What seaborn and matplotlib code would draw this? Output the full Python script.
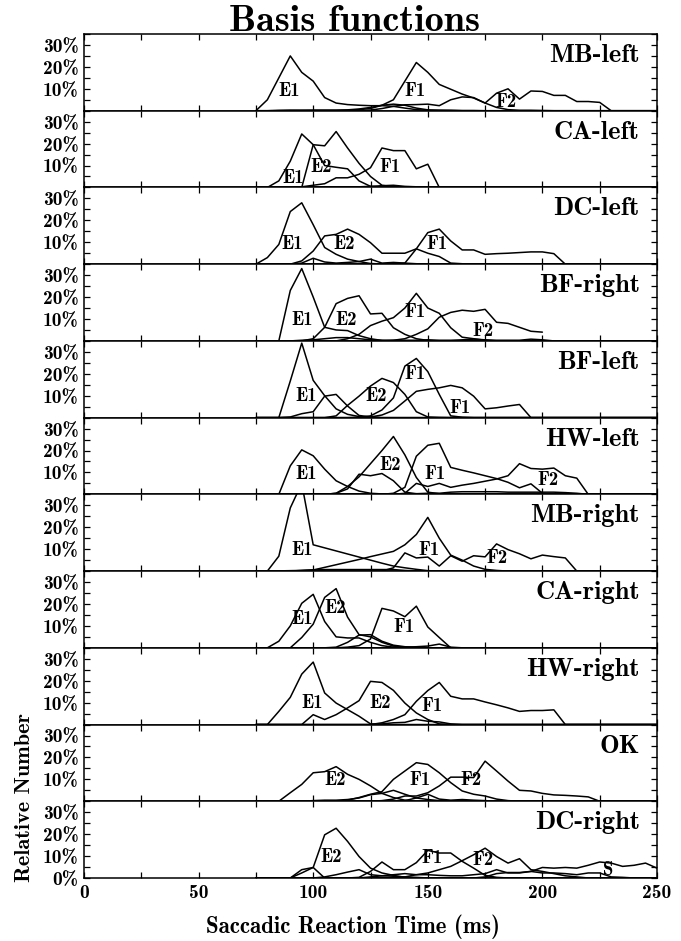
import numpy as np
import pandas as pd
import matplotlib
matplotlib.use("Agg")
import matplotlib.pyplot as plt
import seaborn as sns
from matplotlib.ticker import MultipleLocator, FixedLocator, FuncFormatter

# ---------------- data ----------------
RT = [75, 80, 85, 90, 95, 100,
      105, 110, 115, 120, 125, 130,
      135, 140, 145, 150, 155, 160,
      165, 170, 175, 180, 185, 190,
      195, 200, 205, 210, 215, 220,
      225, 230, 235, 240, 245, 250]

Z6 = [0, 0, 0, 0, 0, 0]
NA6 = [np.nan] * 6

MB_left = {
    "E1": [0, 5, 15, 25, 17.5, 13.5] + [6, 3.5, 2.8, 2.5, 2.3, 2.3] + [2, 1.2, 0.5, 0.2, 0.2, 0.1] + Z6 + Z6 + Z6,
    "E2": [0, 0, 0.2, 0.3, 0.3, 0.3] + [0.3, 0.3, 0.4, 0.8, 1.5, 2.5] + [3, 2.5, 1.2, 0.4, 0.2, 0.2] + [0.1, 0.1, 0, 0, 0, 0] + Z6 + Z6,
    "F1": [0, 0, 0, 0, 0, 0.1] + [0.1, 0.1, 0.2, 0.5, 1, 2.5] + [5, 13.5, 22, 17.5, 12, 9.8] + [7.6, 5.8, 3.5, 1.5, 0.5, 0.2] + [0.2, 0.1, 0, 0, 0, 0] + Z6,
    "F2": Z6 + [0, 0, 0, 0, 0.3, 1] + [2, 2.7, 2.8, 3, 2.3, 5] + [6.3, 6, 3.5, 8, 10, 5.3] + [9, 8.8, 7, 7, 4.2, 4.2] + [3.8, 0, 0, 0, 0, 0],
}
CA_left = {
    "E1": [0, 0, 3, 12, 24.4, 19.5] + [10, 9.2, 8.5, 3, 0.5, 0.2] + [0.1, 0, 0, 0, 0, 0] + Z6 + Z6 + Z6,
    "E2": [0, 0, 0, 0, 0, 19.5] + [19, 25.5, 18, 11, 5, 1] + [0.3, 0.2, 0.1, 0, 0, 0] + Z6 + Z6 + Z6,
    "F1": [0, 0, 0, 0, 0.3, 1] + [1.7, 4.4, 4.4, 6, 9, 18] + [16.8, 16.8, 8.5, 10.6, 0, 0] + Z6 + Z6 + Z6,
    "x1": [0, 0, 0, 0, 0.2, 0.3] + [0.3, 0.3, 0.3, 0.3, 0.5, 0.8] + [1, 0.5, 0.3, 0.1, 0, 0] + Z6 + Z6 + Z6,
}
DC_left = {
    "E1": [0, 3, 9, 24, 28, 18] + [7.6, 4.5, 2.3, 1.2, 0.3, 0.1] + Z6 + Z6 + Z6 + Z6,
    "E2": [0, 0, 0, 0, 1.5, 6] + [12.9, 13.6, 16, 13.6, 9.8, 5] + [5, 5, 7, 5, 3.5, 0.5] + [0.2, 0, 0, 0, 0, 0] + Z6 + Z6,
    "F1": Z6 + Z6 + [0, 0.5, 7, 14.4, 16, 10.6] + [6.5, 6.5, 4.5, 4.8, 5, 5.3] + [5.6, 5.6, 4.8, 0, 0, 0] + Z6,
    "x1": [0, 0, 0, 0, 0.5, 2.7] + [1, 0.5, 0.8, 1.2, 2.3, 0.5] + [0.8, 0.5, 0.2, 0, 0, 0] + Z6 + Z6 + Z6,
}
BF_right = {
    "E1": [0, 0, 0, 23, 33, 20] + [6.2, 5, 4.7, 2.4, 1, 0.2] + Z6 + Z6 + Z6 + Z6,
    "E2": [0, 0, 0, 0, 0, 1] + [6.2, 17, 19.4, 20.6, 12.3, 12.6] + [6, 3, 1, 0.2, 0, 0] + Z6 + Z6 + Z6,
    "F1": Z6 + [0, 0, 1, 3, 7, 9] + [10.6, 15, 21.7, 15, 12.6, 6] + [1.7, 1, 0.3, 0, 0, 0] + Z6 + Z6,
    "F2": Z6 + Z6 + [0.3, 1, 3, 5.5, 10.8, 13] + [14, 13.5, 14.4, 8.5, 8, 6.2] + [4.4, 4] + [np.nan] * 4 + NA6,
    "x1": [0, 0, 0, 0, 0.3, 0.5] + [1, 1.5, 1.5, 1, 0.5, 0.3] + [0.3, 0.3, 0.3, 0.5, 0.3, 0.3] + [0.5, 0.8, 0.5, 0.3, 0.3, 0.3] + [0.8, 0.5, 0, 0, 0, 0] + Z6,
}
BF_left = {
    "E1": [0, 0, 0, 16.7, 34, 17] + [10, 4, 1.5, 0.5, 0.2, 0] + Z6 + Z6 + Z6 + Z6,
    "x1": [0, 0, 0, 0.3, 1.8, 2.7] + [9.8, 10.6, 5.3, 1, 0.3, 0] + Z6 + Z6 + Z6 + Z6,
    "E2": Z6 + [0, 0.8, 5.6, 9.8, 14.4, 17.9] + [16, 10.6, 2.7, 0.3, 0.1, 0] + Z6 + Z6 + Z6,
    "F1a": Z6 + [0, 0, 0, 0.2, 0.8, 3.5] + [9, 23.5, 27, 21, 10.6, 0.8] + [0.2, 0, 0, 0, 0, 0] + Z6 + Z6,
    "F1b": Z6 + [0, 0, 0, 0, 0.3, 1.2] + [3.3, 7.6, 12, 12.9, 13.6, 14.7] + [13.6, 9.8, 4, 4.5, 5.3, 6] + Z6 + Z6,
}
HW_left = {
    "E1": [0, 0, 0, 13, 20.3, 17.6] + [11.5, 6.2, 3.6, 1.5, 0.5, 0.2] + Z6 + Z6 + Z6 + Z6,
    "E2": Z6 + [0, 0.5, 3.6, 8, 14, 20] + [26.4, 18, 7.7, 1, 0.3, 0] + Z6 + Z6 + Z6,
    "x1": Z6 + [0, 0.5, 2.5, 9.2, 8.5, 9.5] + [6.2, 1, 0.3, 0, 0, 0] + Z6 + Z6 + Z6,
    "F1": Z6 + Z6 + [0.5, 3.2, 17.4, 22.4, 23.3, 12.3] + [11, 9.8, 8.5, 7.2, 5.5, 3] + [4.8, 0.5, 0, 0, 0, 0] + Z6,
    "F2": Z6 + Z6 + [0, 0.5, 5, 3.6, 5, 3.2] + [4.2, 5, 6, 7, 8.5, 14] + [11.8, 11.5, 12, 8.5, 7.4, 0] + Z6,
    "x2": Z6 + Z6 + [0, 0, 0.3, 0.5, 0.5, 1] + [1.2, 1.2, 1.2, 1.2, 1, 1] + [1, 1, 1, 0.8, 0.5, 0] + Z6,
}
MB_right = {
    "E1": [0, 0, 6.8, 28.8, 40, 12] + [10.6, 9.2, 7.8, 6.4, 5, 3.6] + [2.3, 1.5, 0.8, 0.2, 0, 0] + Z6 + Z6 + Z6,
    "F1": [0, 0, 0.1, 0.2, 0.3, 0.5] + [1.7, 2.9, 4.1, 5.3, 6.6, 7.8] + [9, 12, 16.7, 24.5, 15, 7.3] + [5, 2.3, 0.8, 0.3, 0, 0] + Z6 + Z6,
    "F2": Z6 + Z6 + [1.5, 8.3, 6, 6.4, 2.3, 7] + [4.5, 7, 6.5, 12.4, 9.8, 7.9] + [5.6, 7.3, 6.6, 6, 0, 0] + Z6,
    "x1": [0, 0, 0, 0, 0.3, 0.6] + [0.7, 0.7, 0.7, 0.7, 0.7, 0.7] + [0.7, 0.3, 0.1, 0, 0, 0] + Z6 + Z6 + Z6,
}
CA_right = {
    "E1": [0, 0, 3, 10, 20.3, 24.4] + [12, 5, 4.5, 4.5, 2.5, 1] + [0.3, 0, 0, 0, 0, 0] + Z6 + Z6 + Z6,
    "E2": [0, 0, 0, 0, 4.7, 10.8] + [23, 27, 14, 6, 5, 2.5] + [0.8, 0.3, 0, 0, 0, 0] + Z6 + Z6 + Z6,
    "x1": Z6 + [0, 0.3, 2.5, 5.8, 6, 3] + [1.2, 0.5, 0.2, 0, 0, 0] + Z6 + Z6 + Z6,
    "F1": Z6 + [0, 0, 0.3, 1, 4, 18] + [16.8, 14.2, 19, 9.5, 4.7, 0] + Z6 + Z6 + Z6,
    "x2": Z6 + Z6 + [0.2, 0.3, 0.5, 0.8, 1.7, 0.3] + Z6 + Z6 + Z6,
}
HW_right = {
    "E1": [0, 0, 6, 12.4, 23, 28.5] + [14.4, 9.8, 6.8, 3.8, 0.3, 0] + Z6 + Z6 + Z6 + Z6,
    "E2": [0, 0, 0, 0, 0, 4.5] + [2.3, 4.5, 7.6, 10.9, 19.7, 19.2] + [15.6, 9.8, 5.3, 2.3, 0.3, 0] + Z6 + Z6 + Z6,
    "F1": Z6 + [0, 0, 0, 0, 0, 0.8] + [2.3, 4.5, 10.6, 15.5, 19.2, 12.9] + [11.7, 11.7, 10.3, 9, 7.6, 6] + [6.4, 6.4, 6.7, 0, 0, 0] + Z6,
    "x1": Z6 + [0, 0, 0, 0, 0, 0.3] + [0.8, 1, 2.3, 1.5, 1.2, 0.3] + Z6 + Z6 + Z6,
}
OK = {
    "E2": [0, 0, 0, 3.9, 7.7, 13] + [13.5, 15.8, 12.3, 10, 7, 3.6] + [1.7, 0.5, 0, 0, 0, 0] + Z6 + Z6 + Z6,
    "F1": Z6 + [0, 0, 0.5, 1.7, 3.2, 4.4] + [10, 13.8, 17.6, 16.8, 13, 8.5] + [4.7, 3.2, 2.4, 1, 0.3, 0] + Z6 + Z6,
    "F2": Z6 + [0, 0, 0, 0, 0, 0.3] + [1, 2.4, 2.4, 3.9, 7, 11] + [11, 10.8, 18.3, 13.8, 9.2, 5] + [4.7, 3.6, 2.9, 2.7, 2.4, 2] + Z6,
    "x1": [0, 0, 0, 0, 0, 0.3] + [0.5, 0.5, 0.8, 1.5, 3, 3.6] + [5, 3.2, 1.5, 0.8, 0.3, 0] + Z6 + Z6 + Z6,
    "x2": Z6 + Z6 + [0, 0.3, 1.5, 3.2, 1, 0.5] + [0.8, 0.5, 0.3, 0, 0, 0] + Z6 + Z6,
}
DC_right = {
    "E2": [0, 0, 0, 0, 3.8, 4.8] + [19.7, 22.7, 16.7, 9.8, 4.5, 2.3] + [1.2, 0.3, 0, 0, 0, 0] + Z6 + Z6 + Z6,
    "x1": [0, 0, 0, 0, 2.3, 4.8] + Z6 + Z6 + Z6 + Z6 + Z6,
    "x2": Z6 + [0.5, 1.5, 2.7, 3.8, 1.5, 1] + [0.8, 0.5, 0.3, 0, 0, 0] + Z6 + Z6 + Z6,
    "F1": Z6 + [0, 0, 0, 0.3, 3, 7.3] + [3.8, 3.8, 7, 12.6, 11.4, 11.4] + [7.6, 4.5, 1.2, 0.3, 0, 0] + Z6 + Z6,
    "F2": Z6 + Z6 + [0, 0.5, 1.5, 2.3, 3.8, 5.3] + [7.9, 10.6, 13.6, 9.8, 6.8, 8.8] + [3.8, 3, 2, 1, 0.5, 0] + Z6,
    "S": Z6 + Z6 + Z6 + [0, 0, 0.5, 2, 2.5, 2.5] + [3, 4.8, 4.5, 4.8, 4.5, 5.8] + [7.3, 6.8, 5.3, 5.8, 6.8, 4.5],
    "x3": Z6 + [0, 0, 0, 0, 0.5, 1] + [1.5, 2, 1.5, 1.5, 1.2, 1] + [1, 1.5, 2, 3.8, 2.3, 2.3] + [3, 2.3, 2.3, 2, 1.5, 2.3] + [2.3, 0.5, 0.3, 0, 0, 0],
}

PANEL_NAMES = ["MB-left", "CA-left", "DC-left", "BF-right", "BF-left", "HW-left",
               "MB-right", "CA-right", "HW-right", "OK", "DC-right"]
PANEL_DATA = [MB_left, CA_left, DC_left, BF_right, BF_left, HW_left,
              MB_right, CA_right, HW_right, OK, DC_right]

# curve labels: (text, RT ms, percent)
CURVE_LABELS = [
    [("E1", 89.5, 9), ("F1", 144.3, 9), ("F2", 184.3, 4)],
    [("E1", 91.3, 4.4), ("E2", 103.6, 9.5), ("F1", 133.4, 9.5)],
    [("E1", 91, 9.4), ("E2", 113.4, 9.4), ("F1", 154, 9.4)],
    [("E1", 95, 9.5), ("E2", 114.5, 9.5), ("F1", 144.3, 13), ("F2", 174, 4.7)],
    [("E1", 97, 9.8), ("E2", 127.3, 9.8), ("F1", 144.3, 19.7), ("F1", 164.2, 4.5)],
    [("E1", 97, 9.5), ("E2", 133.4, 13.5), ("F1", 153, 9.5), ("F2", 202.5, 6.5)],
    [("E1", 95, 9.4), ("F1", 150.4, 9.4), ("F2", 180.2, 5.8)],
    [("E1", 95, 13), ("E2", 109.4, 18.3), ("F1", 139.5, 9.5)],
    [("E1", 99.7, 9.8), ("E2", 129.4, 9.8), ("F1", 151.6, 8.3)],
    [("E2", 109.4, 9.5), ("F1", 146.5, 9.5), ("F2", 169, 9.5)],
    [("E2", 108, 9.8), ("F1", 151.6, 9), ("F2", 174, 8.3), ("S", 228.6, 3.8)],
]

# ---------------- style ----------------
sns.set_style("ticks")
plt.rcParams["font.family"] = ["cmb10", "DejaVu Serif"]
plt.rcParams["mathtext.fontset"] = "cm"
plt.rcParams["axes.unicode_minus"] = False
plt.rcParams["axes.linewidth"] = 1.1
for key in ["text.color", "axes.labelcolor", "xtick.color", "ytick.color",
            "axes.edgecolor", "xtick.labelcolor", "ytick.labelcolor"]:
    plt.rcParams[key] = "black"

fig = plt.figure(figsize=(6.81, 9.41), dpi=100)
n = len(PANEL_NAMES)
left, right, top, bottom = 84 / 681, 657 / 681, 1 - 34 / 941, 1 - 878 / 941
h = (top - bottom) / n
axes = []
for i in range(n):
    ax = fig.add_axes([left, top - (i + 1) * h, right - left, h])
    axes.append(ax)

pct_fmt = FuncFormatter(lambda v, p: f"{int(round(v))}%")

for i, (ax, name, data) in enumerate(zip(axes, PANEL_NAMES, PANEL_DATA)):
    frames = []
    for key, vals in data.items():
        frames.append(pd.DataFrame({"rt": RT, "pct": vals, "curve": key}))
    df = pd.concat(frames, ignore_index=True).dropna()
    sns.lineplot(data=df, x="rt", y="pct", units="curve", estimator=None,
                 color="black", linewidth=1.1, ax=ax, legend=False, sort=True)
    ax.set_xlim(0, 250)
    ax.set_ylim(0, 35)
    ax.set_xlabel("")
    ax.set_ylabel("")
    ax.xaxis.set_major_locator(MultipleLocator(50))
    ax.xaxis.set_minor_locator(MultipleLocator(25))
    ax.yaxis.set_major_locator(FixedLocator([0, 10, 20, 30] if i == n - 1 else [10, 20, 30]))
    ax.yaxis.set_minor_locator(MultipleLocator(5))
    ax.yaxis.set_major_formatter(pct_fmt)
    ax.tick_params(which="both", direction="in", top=True, right=True,
                   length=4.5, width=0.9, labelsize=14, pad=4, colors="black")
    if i != n - 1:
        ax.tick_params(labelbottom=False)
    for s in ax.spines.values():
        s.set_linewidth(1.1)
        s.set_color("black")
    ax.text(0.97, 0.635, name, transform=ax.transAxes, ha="right", va="baseline",
            fontsize=19, color="black")
    for lab, x, y in CURVE_LABELS[i]:
        ax.text(x, y, lab, ha="center", va="center", fontsize=13.5, color="black")

fig.text(354 / 681, 1 - 31 / 941, "Basis functions", ha="center", va="baseline",
         fontsize=27.5, color="black")
fig.text(353 / 681, 1 - 933 / 941, "Saccadic Reaction Time (ms)", ha="center",
         va="baseline", fontsize=16.5, color="black")
fig.text(25 / 681, 1 - 797 / 941, "Relative Number", rotation=90, ha="center",
         va="center", fontsize=16, color="black")

fig.savefig("out.png", dpi=100)
